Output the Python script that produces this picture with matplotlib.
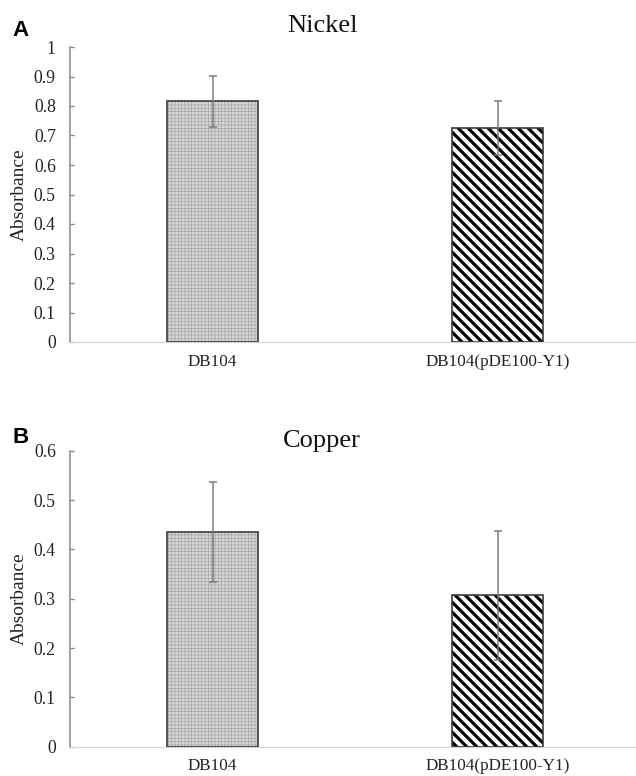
import numpy as np
import matplotlib
matplotlib.use('Agg')
import matplotlib.pyplot as plt

# values
strains = ['DB104', 'DB104(pDE100-Y1)']
nickel_mean = [0.816, 0.726]
nickel_err = [0.087, 0.091]
copper_mean = [0.435, 0.307]
copper_err = [0.101, 0.131]
nickel_ticks = np.arange(0, 1.01, 0.1)
copper_ticks = np.arange(0, 0.61, 0.1)

plt.rcParams['font.family'] = ['Liberation Serif', 'DejaVu Serif']
plt.rcParams['hatch.linewidth'] = 2.0

DPI = 120
W, H = 636, 776
fig = plt.figure(figsize=(W / DPI, H / DPI), dpi=DPI)

hatches = ['++++++', '\\\\\\\\']
faces = ['#d6d6d6', 'white']
hatch_cols = ['#a0a0a0', 'black']
hatch_lws = [0.35, 1.9]


def fmt(v):
    s = '%.1f' % v
    if s.endswith('.0'):
        s = s[:-2]
    return s


def panel(rect, means, errs, ticks, ymax):
    ax = fig.add_axes(rect)
    x = np.arange(len(strains))
    for i in range(len(x)):
        b = ax.bar(x[i], means[i], width=0.316, color=faces[i],
                   edgecolor=hatch_cols[i], linewidth=0, hatch=hatches[i], zorder=2)
        for p in b:
            if hasattr(p, 'set_hatch_linewidth'):
                p.set_hatch_linewidth(hatch_lws[i])
        ax.bar(x[i], means[i], width=0.316, fill=False,
               edgecolor='#3c3c3c', linewidth=1.0, zorder=3)
    ax.errorbar(x, means, yerr=errs, fmt='none', ecolor='#7a7a7a',
                elinewidth=0.9, capsize=2.4, capthick=0.9, zorder=4)
    ax.set_xlim(-0.5, 1.5)
    ax.set_ylim(0, ymax)
    ax.set_yticks(ticks)
    ax.set_yticklabels([fmt(t) for t in ticks])
    ax.set_xticks(x)
    ax.set_xticklabels(strains)
    ax.spines['top'].set_visible(False)
    ax.spines['right'].set_visible(False)
    ax.spines['left'].set_color('#858585')
    ax.spines['left'].set_linewidth(0.9)
    ax.spines['bottom'].set_color('#d4d4d4')
    ax.spines['bottom'].set_linewidth(0.7)
    ax.tick_params(axis='y', direction='in', length=2.4, width=0.8,
                   color='#858585', labelsize=10.6, pad=8.5, labelcolor='#222222')
    ax.tick_params(axis='x', length=0, labelsize=10.3, pad=7, labelcolor='#222222')
    ax.set_ylabel('Absorbance', fontsize=11.6, color='#222222')
    ax.patch.set_alpha(0)
    return ax


axA = panel([70 / W, 1 - 342 / H, 570 / W, 295 / H],
            nickel_mean, nickel_err, nickel_ticks, 1.0)
axB = panel([70 / W, 1 - 746.7 / H, 570 / W, 296 / H],
            copper_mean, copper_err, copper_ticks, 0.6)

for ax in [axA, axB]:
    ax.yaxis.set_label_coords(-(70 - 28) / 570, 0.5)

fig.text(12 / W, 1 - 36 / H, 'A', fontsize=13.4, fontweight='bold',
         family=['Liberation Sans', 'DejaVu Sans'], va='baseline')
fig.text(322 / W, 1 - 32 / H, 'Nickel', fontsize=15.8, ha='center',
         va='baseline', color='#111111')
fig.text(12 / W, 1 - 443 / H, 'B', fontsize=13.4, fontweight='bold',
         family=['Liberation Sans', 'DejaVu Sans'], va='baseline')
fig.text(322 / W, 1 - 447 / H, 'Copper', fontsize=15.8, ha='center',
         va='baseline', color='#111111')

fig.savefig('out.png', dpi=DPI, facecolor='white')
